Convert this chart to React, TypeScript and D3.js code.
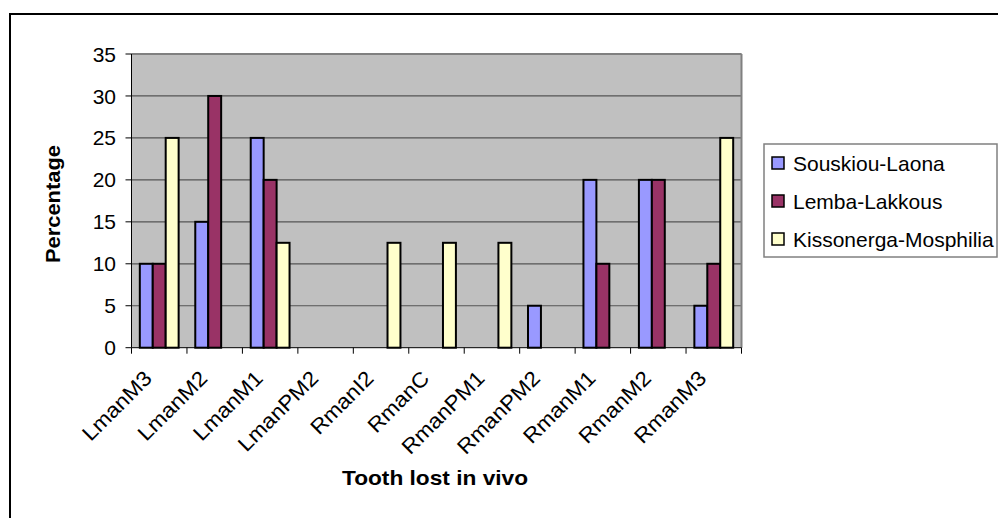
import React from "react";
import * as d3 from "d3";

// Tooth positions along the mandible
const categories = [
  "LmanM3", "LmanM2", "LmanM1", "LmanPM2", "RmanI2", "RmanC",
  "RmanPM1", "RmanPM2", "RmanM1", "RmanM2", "RmanM3",
];

// Percentage of teeth lost in vivo, per site
const seriesNames = ["Souskiou-Laona", "Lemba-Lakkous", "Kissonerga-Mosphilia"];
const souskiouLaona = [10, 15, 25, 0, 0, 0, 0, 5, 20, 20, 5];
const lembaLakkous = [10, 30, 20, 0, 0, 0, 0, 0, 10, 20, 10];
const kissonergaMosphilia = [25, 0, 12.5, 0, 12.5, 12.5, 12.5, 0, 0, 0, 25];
const seriesValues = [souskiouLaona, lembaLakkous, kissonergaMosphilia];
const seriesColors = ["#9999FF", "#993366", "#FFFFCC"];

const yTicks = [0, 5, 10, 15, 20, 25, 30, 35];

const W = 998;
const H = 518;
const plot = { left: 131.5, right: 741.5, top: 54, bottom: 347.7 };
const FONT = "Arial, 'Liberation Sans', Helvetica, sans-serif";

export default function App() {
  const x0 = d3
    .scaleBand<string>()
    .domain(categories)
    .range([plot.left, plot.right])
    .padding(0);
  const bw = x0.bandwidth();
  const groupW = bw * 0.7;
  const x1 = d3
    .scaleBand<string>()
    .domain(seriesNames)
    .range([0, groupW])
    .padding(0);
  const y = d3.scaleLinear().domain([0, 35]).range([plot.bottom, plot.top]);

  const boundaries = d3.range(categories.length + 1).map(
    (i) => plot.left + i * bw
  );

  return (
    <svg
      width={W}
      height={H}
      style={{ position: "fixed", left: 0, top: 0, background: "#fff" }}
      fontFamily={FONT}
    >
      <rect x={0} y={0} width={W} height={H} fill="#fff" />
      {/* outer chart frame */}
      <rect x={10} y={14} width={1000} height={530} fill="none" stroke="#000" strokeWidth={2} />

      {/* plot area */}
      <rect
        x={plot.left}
        y={plot.top}
        width={plot.right - plot.left}
        height={plot.bottom - plot.top}
        fill="#C0C0C0"
      />
      {yTicks.slice(1).map((t) => (
        <line
          key={"g" + t}
          x1={plot.left}
          x2={plot.right}
          y1={y(t)}
          y2={y(t)}
          stroke="#555"
          strokeWidth={1.2}
        />
      ))}
      <line x1={plot.left} x2={plot.right} y1={plot.top} y2={plot.top} stroke="#808080" strokeWidth={2} />
      <line x1={plot.right} x2={plot.right} y1={plot.top} y2={plot.bottom} stroke="#808080" strokeWidth={2} />

      {/* bars */}
      {categories.map((c, ci) =>
        seriesNames.map((s, si) => {
          const v = seriesValues[si][ci];
          if (!v) return null;
          const bx = (x0(c) as number) + (bw - groupW) / 2 + (x1(s) as number);
          return (
            <rect
              key={c + s}
              x={bx}
              y={y(v)}
              width={x1.bandwidth()}
              height={y(0) - y(v)}
              fill={seriesColors[si]}
              stroke="#000"
              strokeWidth={2}
            />
          );
        })
      )}

      {/* axes */}
      <line x1={plot.left} x2={plot.left} y1={plot.top} y2={plot.bottom} stroke="#000" strokeWidth={1} />
      <line x1={plot.left} x2={plot.right} y1={plot.bottom} y2={plot.bottom} stroke="#000" strokeWidth={1} />
      {yTicks.map((t) => (
        <g key={"yt" + t}>
          <line x1={plot.left - 6} x2={plot.left} y1={y(t)} y2={y(t)} stroke="#000" />
          <text
            x={116}
            y={y(t)}
            dy="0.36em"
            textAnchor="end"
            fontSize={21}
            fill="#000"
          >
            {t}
          </text>
        </g>
      ))}
      {boundaries.map((bx, i) => (
        <line key={"xt" + i} x1={bx} x2={bx} y1={plot.bottom} y2={plot.bottom + 6} stroke="#000" />
      ))}
      {categories.map((c) => {
        const cx = (x0(c) as number) + bw / 2;
        return (
          <text
            key={"xl" + c}
            transform={`translate(${cx - 6},${plot.bottom + 32}) rotate(-45) scale(1.08,1)`}
            textAnchor="end"
            fontSize={21}
            fill="#000"
          >
            {c}
          </text>
        );
      })}

      {/* axis titles */}
      <text
        transform={`translate(60,${204}) rotate(-90)`}
        textAnchor="middle"
        fontSize={21}
        fontWeight="bold"
        fill="#000"
        textLength={118}
        lengthAdjust="spacingAndGlyphs"
      >
        Percentage
      </text>
      <text
        x={435}
        y={485}
        textAnchor="middle"
        fontSize={21}
        fontWeight="bold"
        fill="#000"
        textLength={186}
        lengthAdjust="spacingAndGlyphs"
      >
        Tooth lost in vivo
      </text>

      {/* legend */}
      <rect x={764} y={144} width={233} height={113} fill="#fff" stroke="#808080" strokeWidth={1.5} />
      {seriesNames.map((s, i) => {
        const cy = 163.5 + i * 38;
        return (
          <g key={"lg" + s}>
            <rect x={772} y={cy - 6.5} width={12} height={12} fill={seriesColors[i]} stroke="#000" strokeWidth={1.5} />
            <text
              transform={`translate(793,${cy}) scale(1.05,1)`}
              dy="0.36em"
              fontSize={20}
              fill="#000"
            >
              {s}
            </text>
          </g>
        );
      })}
    </svg>
  );
}
